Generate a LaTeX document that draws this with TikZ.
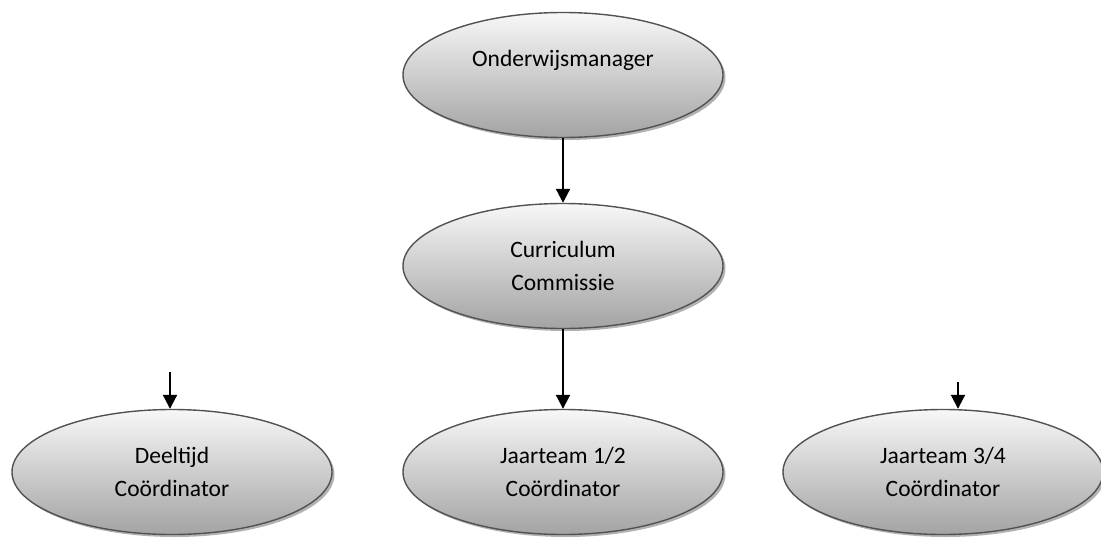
\documentclass[tikz,border=0pt]{standalone}
\usepackage{fontspec}
\setmainfont{Carlito}
\usetikzlibrary{shapes.geometric,shadows,arrows.meta}

\begin{document}
\begin{tikzpicture}[x=1pt, y=-1pt,
    unit/.style={ellipse, draw=black!68, line width=1.4pt,
        minimum width=320pt, minimum height=125pt, inner sep=0pt,
        top color=black!3, bottom color=black!36,
        drop shadow={shadow xshift=2.5pt, shadow yshift=-2.5pt, fill=black!30, opacity=1},
        align=center, font=\fontsize{23.5}{33}\selectfont},
    down/.style={-{Triangle[length=14pt, width=14pt]}, line width=2pt}]
    \useasboundingbox (0,0) rectangle (1101,538);
    % units
    \node[unit] (onder) at (563,75) {Onderwijsmanager\\\mbox{}};
    \node[unit] (curr) at (563,266) {Curriculum\\Commissie};
    \node[unit] (deel) at (172,472) {Deeltijd\\Coördinator};
    \node[unit] (jaar12) at (563,472) {Jaarteam 1/2\\Coördinator};
    \node[unit] (jaar34) at (943,472) {Jaarteam 3/4\\Coördinator};
    % loose arrow ends
    \coordinate (deelIn) at (170,372);
    \coordinate (jaar34In) at (958,382);
    % arrows
    \draw[down] (onder) -- (curr);
    \draw[down] (curr) -- (jaar12);
    \draw[down] (deelIn) -- (deelIn |- deel.north);
    \draw[down] (jaar34In) -- (jaar34In |- jaar34.north);
\end{tikzpicture}
\end{document}
